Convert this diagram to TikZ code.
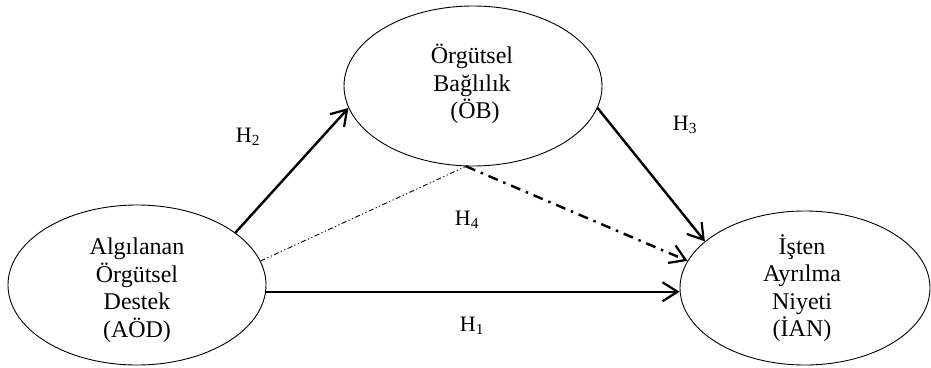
\documentclass[tikz,border=0pt]{standalone}
\usepackage{fontspec}
\setmainfont{Liberation Serif}
\usetikzlibrary{shapes.geometric,arrows.meta}
\begin{document}
\begin{tikzpicture}[x=1bp,y=-1bp,
  ell/.style={draw,ellipse,line width=0.9bp,inner sep=0pt},
  etext/.style={inner sep=0pt,align=center,font=\fontsize{24bp}{27.5bp}\selectfont},
  hlab/.style={font=\fontsize{22bp}{24bp}\selectfont,inner sep=0pt},
  conn/.style={line width=2.4bp,-{Straight Barb[length=15bp,width=19bp,line width=2.2bp]}},
  thinline/.style={line width=0.9bp,dash pattern=on 5bp off 2.5bp on 1.2bp off 2.5bp on 1.2bp off 2.5bp},
  thickdd/.style={line width=2.4bp,dash pattern=on 10bp off 6bp on 2.5bp off 6bp,
    -{Straight Barb[length=15bp,width=19bp,line width=2.2bp]}}
]
\useasboundingbox (0,0) rectangle (931,367);
\node[ell,minimum width=258bp,minimum height=160bp] (aod) at (137,285) {};
\node[ell,minimum width=258bp,minimum height=160bp] (ob) at (473,86) {};
\node[ell,minimum width=250bp,minimum height=154bp] (ian) at (805,288) {};
\node[etext] (aodt) at (137,290) {Algılanan\\Örgütsel\\Destek\\(AÖD)};
\node[etext] (obt) at (472,84) {Örgütsel\\Bağlılık\\\ (ÖB)};
\node[etext] (iant) at (802,288) {İşten\\Ayrılma\\Niyeti\\(İAN)};

\draw[conn] (aod.28) -- (ob.190);
\draw[conn] (ob.-10) -- (ian.155);
\draw[thinline] (aod.11) -- (ob.-95);
\draw[thickdd] (ob.-95) -- (ian.167);
\draw[conn] (aod.-3) -- (aod.-3 -| ian.west);

\node[hlab] (h2) at (248,137) {H\textsubscript{2}};
\node[hlab] (h3) at (685,125) {H\textsubscript{3}};
\node[hlab] (h4) at (467,220) {H\textsubscript{4}};
\node[hlab] (h1) at (472,326) {H\textsubscript{1}};
\end{tikzpicture}
\end{document}
